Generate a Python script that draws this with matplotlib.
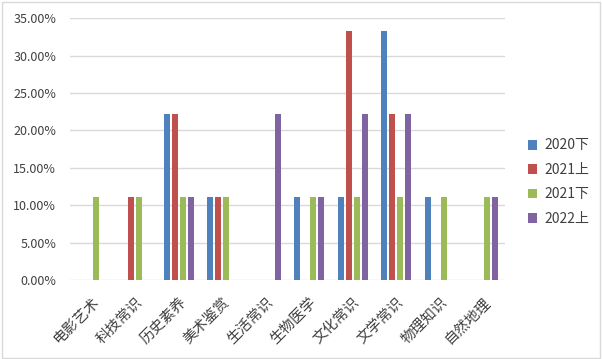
import matplotlib
matplotlib.use("Agg")
import matplotlib.pyplot as plt
import numpy as np
from matplotlib.patches import Rectangle
from matplotlib.ticker import PercentFormatter

plt.rcParams['font.family'] = ['Noto Sans CJK SC', 'DejaVu Sans']

categories = ['电影艺术', '科技常识', '历史素养', '美术鉴赏', '生活常识',
              '生物医学', '文化常识', '文学常识', '物理知识', '自然地理']
series = ['2020下', '2021上', '2021下', '2022上']
v2020b = [0, 0, 22.22, 11.11, 0, 11.11, 11.11, 33.33, 11.11, 0]
v2021a = [0, 11.11, 22.22, 11.11, 0, 0, 33.33, 22.22, 0, 0]
v2021b = [11.11, 11.11, 11.11, 11.11, 0, 11.11, 11.11, 11.11, 11.11, 11.11]
v2022a = [0, 0, 11.11, 0, 22.22, 11.11, 22.22, 22.22, 0, 11.11]
colors = ['#4F81BD', '#C0504D', '#9BBB59', '#8064A2']

fig = plt.figure(figsize=(6.02, 3.59), dpi=100)
ax = fig.add_axes([70/602, 79/359, 435/602, 261.7/359])

x = np.arange(len(categories))
step = 0.184
width = 0.138
for i, (name, vals) in enumerate(zip(series, [v2020b, v2021a, v2021b, v2022a])):
    ax.bar(x + (i - 1.5) * step, np.array(vals) / 100, width, color=colors[i],
           label=name, zorder=3)

ax.set_xlim(-0.5, len(categories) - 0.5)
ax.set_ylim(0, 0.35)
ax.set_yticks(np.arange(0, 0.351, 0.05))
ax.yaxis.set_major_formatter(PercentFormatter(1.0, decimals=2))
ax.grid(axis='y', color='#d9d9d9', linewidth=1, zorder=0)
ax.set_axisbelow(True)
for s in ax.spines.values():
    s.set_visible(False)
ax.tick_params(axis='both', length=0, colors='#404040')
ax.tick_params(axis='y', labelsize=9, pad=10)
ax.set_xticks(x)
ax.set_xticklabels(categories, rotation=45, ha='right', rotation_mode='anchor',
                   fontsize=10.5)
ax.tick_params(axis='x', pad=11)
for lbl in ax.get_xticklabels():
    lbl.set_color('#404040')

leg = fig.legend(loc='upper left', bbox_to_anchor=(515/602, 1 - 126/359),
                 frameon=False, fontsize=10, handlelength=0.7, handleheight=0.7,
                 handletextpad=0.5, labelspacing=0.75, labelcolor='#404040')

fig.patches.append(Rectangle((2/602, 1/359), 598/602, 356/359, transform=fig.transFigure,
                             fill=False, edgecolor='#d9d9d9', linewidth=1))

fig.savefig('out.png', dpi=100)
